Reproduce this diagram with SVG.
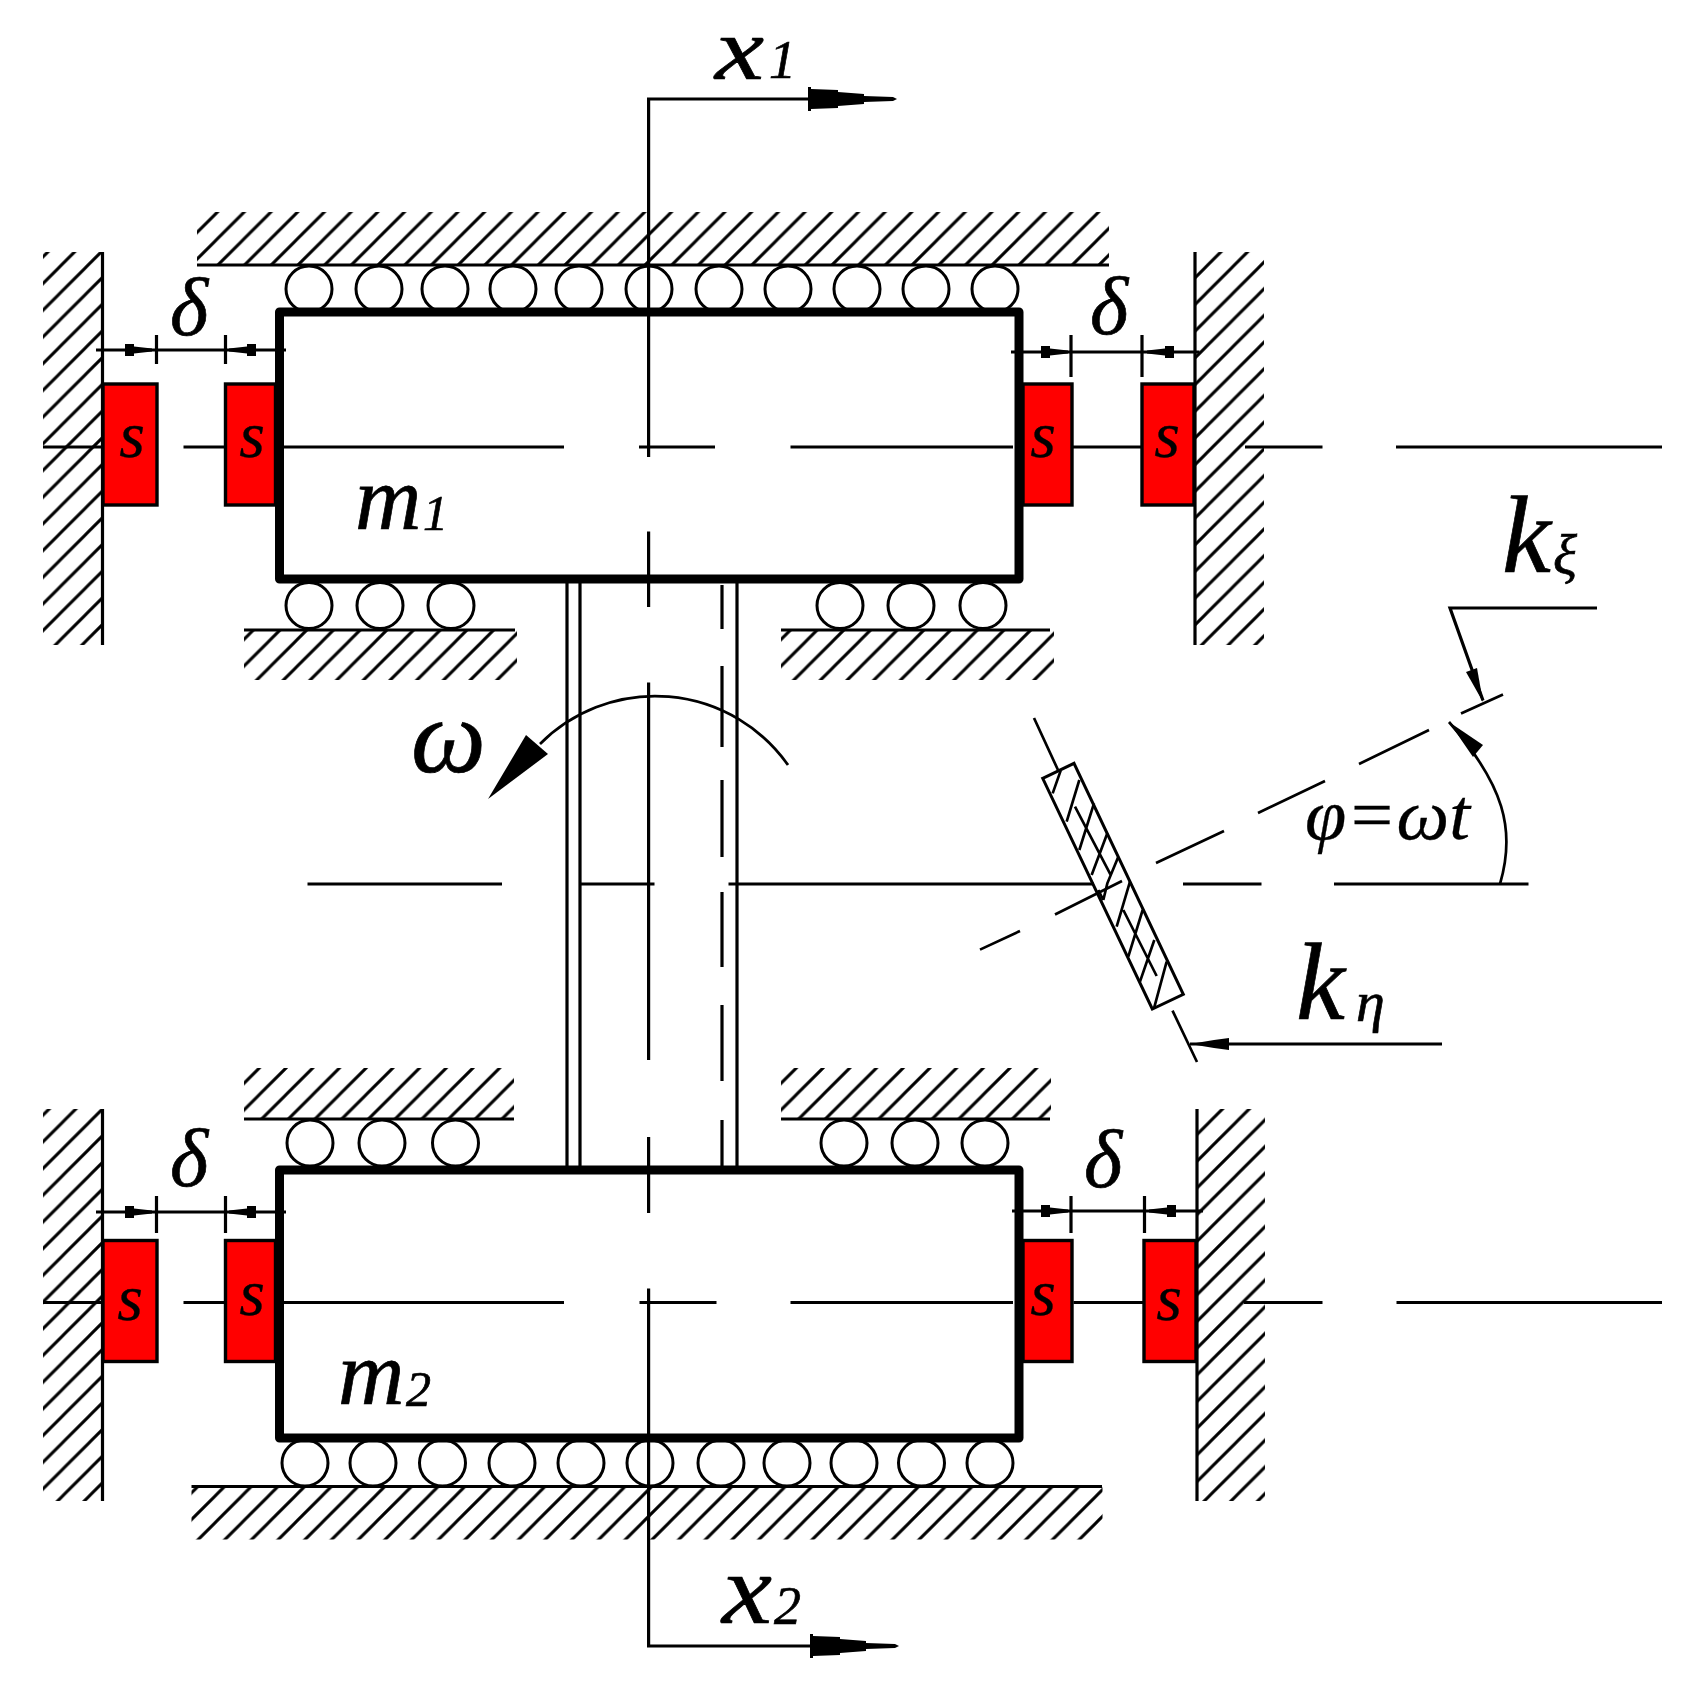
<svg xmlns="http://www.w3.org/2000/svg" width="1692" height="1692" viewBox="0 0 1692 1692">
<style>
.l{fill:none;stroke:#000;stroke-width:3.2}
.t{fill:none;stroke:#000;stroke-width:2.7}
.b{fill:none;stroke:#000;stroke-width:9;stroke-linejoin:round}
.r{fill:none;stroke:#000;stroke-width:3}
.s{fill:#f00;stroke:#000;stroke-width:3.4}
.a{fill:#000;stroke:none}
.h{fill:url(#hatch);stroke:none}
text{font-family:"Liberation Serif","Times New Roman",serif;font-style:italic;fill:#000;stroke:#000;stroke-width:.7}
.big{font-size:100px}.sub{font-size:54px}.d{font-size:82px}.sl{font-size:66px;text-anchor:middle;stroke-width:.3}
</style>
<defs>
<pattern id="hatch" patternUnits="userSpaceOnUse" width="26.7" height="26.7">
<path d="M-5 5L5 -5M0 26.7L26.7 0M21.7 31.7L31.7 21.7" fill="none" stroke="#000" stroke-width="3"/>
</pattern>
<polygon id="head" class="a" points="0,-12 3,-12 3,-10 30,-9 30,-7 56,-5 56,-3 85,-2 89,0 85,2 56,3 56,5 30,7 30,9 3,10 3,12 0,12"/>
<polygon id="mini" class="a" points="0,-6 9,-6 9,-3.500 27,-1.500 27,1.500 9,3.500 9,6 0,6"/>
</defs>
<rect width="1692" height="1692" fill="#fff"/>

<g id="ground-top"><rect class="h" x="194.7" y="212" width="912" height="53" transform="translate(2.3 0)"/><path class="l" d="M197 265H1109"/></g>
<g id="ground-upper-left"><rect class="h" x="241.7" y="630" width="273" height="50" transform="translate(2.3 0)"/><path class="l" d="M244 630H515"/></g>
<g id="ground-upper-right"><rect class="h" x="775.6" y="630" width="273" height="50" transform="translate(5.4 0)"/><path class="l" d="M781 630H1050"/></g>
<g id="ground-lower-left"><rect class="h" x="225" y="1068" width="270" height="51" transform="translate(19 0)"/><path class="l" d="M244 1119H514"/></g>
<g id="ground-lower-right"><rect class="h" x="759" y="1068" width="270" height="51" transform="translate(22 0)"/><path class="l" d="M781 1119H1050"/></g>
<g id="ground-bottom"><rect class="h" x="189.2" y="1486" width="911" height="53.500" transform="translate(2.3 0)"/><path class="l" d="M191.500 1486.500H1102"/></g>

<g id="wall-top-left"><rect class="h" x="36.900" y="252" width="59.500" height="393" transform="translate(6.1 0)"/><path class="l" d="M102.500 252V645"/></g>
<g id="wall-top-right"><rect class="h" x="1190.700" y="252" width="69" height="393" transform="translate(4.3 0)"/><path class="l" d="M1195 252V645"/></g>
<g id="wall-bottom-left"><rect class="h" x="33" y="1109" width="59.500" height="392" transform="translate(10 0)"/><path class="l" d="M102.500 1109V1501"/></g>
<g id="wall-bottom-right"><rect class="h" x="1188.400" y="1109" width="68" height="392" transform="translate(8.600 0)"/><path class="l" d="M1197 1109V1501"/></g>

<g id="rollers-top" class="r"><circle cx="309" cy="289" r="23"/><circle cx="379" cy="289" r="23"/><circle cx="445" cy="289" r="23"/><circle cx="513" cy="289" r="23"/><circle cx="579" cy="289" r="23"/><circle cx="649" cy="289" r="23"/><circle cx="719" cy="289" r="23"/><circle cx="788" cy="289" r="23"/><circle cx="857" cy="289" r="23"/><circle cx="926" cy="289" r="23"/><circle cx="995" cy="289" r="23"/></g>
<g id="rollers-upper" class="r"><circle cx="309" cy="605.500" r="23"/><circle cx="380" cy="605.500" r="23"/><circle cx="451" cy="605.500" r="23"/><circle cx="840" cy="605.500" r="23"/><circle cx="911" cy="605.500" r="23"/><circle cx="983" cy="605.500" r="23"/></g>
<g id="rollers-lower" class="r"><circle cx="310" cy="1143" r="23"/><circle cx="382" cy="1143" r="23"/><circle cx="455.500" cy="1143" r="23"/><circle cx="844" cy="1143" r="23"/><circle cx="915" cy="1143" r="23"/><circle cx="985" cy="1143" r="23"/></g>
<g id="rollers-bottom" class="r"><circle cx="305" cy="1463" r="23"/><circle cx="373" cy="1463" r="23"/><circle cx="442.500" cy="1463" r="23"/><circle cx="512" cy="1463" r="23"/><circle cx="581" cy="1463" r="23"/><circle cx="650" cy="1463" r="23"/><circle cx="721" cy="1463" r="23"/><circle cx="787" cy="1463" r="23"/><circle cx="854" cy="1463" r="23"/><circle cx="921.500" cy="1463" r="23"/><circle cx="990" cy="1463" r="23"/></g>

<g id="connectors">
<path class="l" d="M43 447H102M183.500 447H226M283 447H564M639 447H715M790.500 447H1013M1073 447H1142M1245 447H1322.500M1396 447H1662"/>
<path class="l" d="M43 1302.500H102M183.500 1302.500H226M283 1302.500H564M639.500 1302.500H716.500M790.500 1302.500H1013M1073.500 1302.500H1144M1244 1302.500H1322.500M1396.500 1302.500H1662"/>
<path class="l" d="M307.500 884H502M580 884H654.500M728.500 884H1094M1183 884H1261.500M1334 884H1528.500"/>
<path class="l" d="M648.600 457V99H810M648.600 531.500V607M648.600 682.600V1060M648.600 1137V1213M648.600 1288.500V1646H812"/>
<path class="l" d="M567 579V1170M580 579V1170M737 579V1170"/>
<path class="l" d="M722 585V629M722 666V747M722 780V857M722 892V967M722 1005V1081M722 1120V1170"/>
<use href="#head" transform="translate(808 99)"/>
<use href="#head" transform="translate(810 1646)"/>
<path class="l" d="M96 350H286M156.500 335V364M225.500 335V364"/>
<path class="l" d="M1011 352H1199.500M1071 335V377M1142 335V377"/>
<path class="l" d="M96 1212H286M156.500 1196V1233M225.500 1196V1233"/>
<path class="l" d="M1012 1211H1203M1071 1196V1233M1144.500 1196V1233"/>
<use href="#mini" transform="translate(125 350)"/><use href="#mini" transform="translate(256 350) scale(-1 1)"/>
<use href="#mini" transform="translate(1041 352)"/><use href="#mini" transform="translate(1174 352) scale(-1 1)"/>
<use href="#mini" transform="translate(125 1212)"/><use href="#mini" transform="translate(256 1212) scale(-1 1)"/>
<use href="#mini" transform="translate(1041 1211)"/><use href="#mini" transform="translate(1176 1211) scale(-1 1)"/>
<path class="t" d="M788 765A162.500 162.500 0 0 0 540 744"/>
<polygon class="a" points="488,799 526,735 548,754"/>
<path class="t" d="M980 949.600L1020 931M1055 914.500L1122 881M1156 863L1224 831M1258 813L1325 781M1359 764L1429 730M1461 713.500L1503 694.500"/>
<path class="t" d="M1034 718L1058 770M1172.500 1010.600L1197 1062"/>
<path class="l" d="M1597 608H1450L1483 700.500"/>
<polygon class="a" points="1483,702 1466,672 1477,668"/>
<path class="t" d="M1500 884C1516 830 1504 785 1449 722"/>
<polygon class="a" points="1449,722 1483,745 1473,757"/>
<path class="l" d="M1442 1044H1190"/>
<polygon class="a" points="1190,1044 1214,1040 1229,1038 1229,1050 1214,1048"/>
</g>

<g id="mass-1"><rect class="b" x="279.500" y="312" width="739.500" height="267"/></g>
<g id="mass-2"><rect class="b" x="279.500" y="1170" width="739.500" height="268"/></g>

<g id="stop-1"><rect class="s" x="103" y="384" width="54" height="121"/><text class="sl" x="132" y="457">s</text></g>
<g id="stop-2"><rect class="s" x="225.500" y="384" width="50" height="121"/><text class="sl" x="252" y="457">s</text></g>
<g id="stop-3"><rect class="s" x="1023" y="384" width="49" height="121"/><text class="sl" x="1043" y="457">s</text></g>
<g id="stop-4"><rect class="s" x="1142" y="384" width="52" height="121"/><text class="sl" x="1167" y="457">s</text></g>
<g id="stop-5"><rect class="s" x="103" y="1240.500" width="54" height="121"/><text class="sl" x="130" y="1320">s</text></g>
<g id="stop-6"><rect class="s" x="225.500" y="1240.500" width="50" height="121"/><text class="sl" x="252" y="1315">s</text></g>
<g id="stop-7"><rect class="s" x="1023" y="1240.500" width="49" height="121"/><text class="sl" x="1043" y="1315">s</text></g>
<g id="stop-8"><rect class="s" x="1144" y="1240.500" width="52" height="121"/><text class="sl" x="1169" y="1320">s</text></g>

<g id="spring">
<polygon class="t" style="stroke-width:3" points="1042.700,778.300 1074,763.300 1183.300,994.300 1152.300,1009"/>
<path class="t" transform="translate(1020 750) scale(.3333)" style="stroke-width:8" d="M122 62L98 130M178 90L140 215M222 160L178 300M262 250L215 375M295 320L262 400L250 450M330 395L290 530M368 480L325 620M403 570L360 695M440 635L402 775M165 170L272 375M310 480L410 678M235 420L250 450"/>
</g>

<g id="labels">
<text style="font-size:88px" x="715" y="79" textLength="49" lengthAdjust="spacingAndGlyphs">x</text><text class="sub" x="769" y="78">1</text>
<text class="big" x="722" y="1623" textLength="50" lengthAdjust="spacingAndGlyphs">x</text><text class="sub" x="774" y="1624">2</text>
<text style="font-size:92px" x="355" y="529">m</text><text style="font-size:50px" x="423" y="530">1</text>
<text style="font-size:92px" x="338" y="1404">m</text><text style="font-size:50px" x="406" y="1406">2</text>
<text class="d" x="170" y="335">δ</text><text class="d" x="1090" y="334">δ</text>
<text class="d" x="170" y="1186">δ</text><text class="d" x="1084" y="1187">δ</text>
<text style="font-size:106px" x="411" y="772">ω</text>
<text style="font-size:110px" x="1502" y="572">k</text><text style="font-size:56px" x="1553" y="574">ξ</text>
<text style="font-size:110px" x="1296" y="1019">k</text><text style="font-size:58px" x="1356" y="1021">η</text>
<text style="font-size:72px;stroke-width:.3" x="1305" y="839" textLength="165" lengthAdjust="spacingAndGlyphs">φ=ωt</text>
</g>
</svg>
